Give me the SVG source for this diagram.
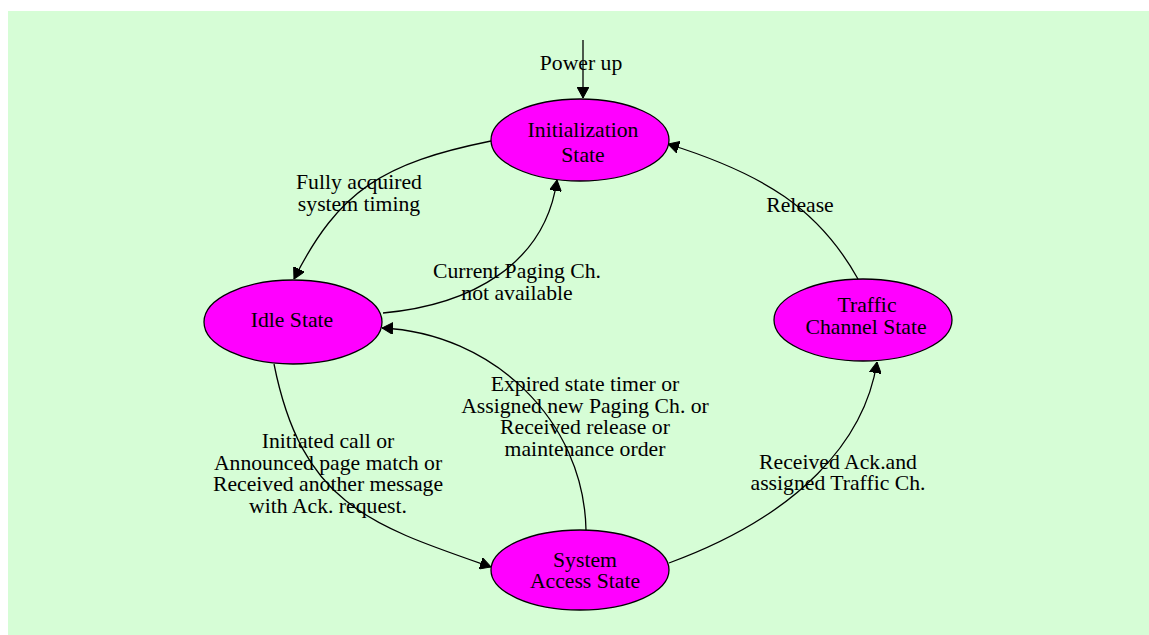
<svg xmlns="http://www.w3.org/2000/svg" width="1149" height="635" viewBox="0 0 1149 635">
  <style>
    .node ellipse { fill: #ff00ff; stroke: #000; stroke-width: 1.3; }
    text { font-family: "Liberation Serif", "Times New Roman", serif; font-size: 21.7px; fill: #000; text-anchor: middle; }
    .edge { fill: none; stroke: #000; stroke-width: 1.3; marker-end: url(#arrow); }
  </style>
  <defs>
    <marker id="arrow" viewBox="0 0 11 12" refX="11" refY="6" markerWidth="11" markerHeight="12" markerUnits="userSpaceOnUse" orient="auto">
      <path d="M0,0 L11,6 L0,12 Z" fill="#000" stroke="#000" stroke-width="1"/>
    </marker>
  </defs>

  <!-- canvas -->
  <rect x="8" y="11" width="1141" height="624" fill="#d6fdd6"/>

  <!-- transitions -->
  <g id="connectors">
    <path class="edge" d="M583,40 L583,98"/>
    <path class="edge" d="M491,141 C383,163 339,190 294,279"/>
    <path class="edge" d="M383,313 C470,305 545,265 557,180"/>
    <path class="edge" d="M274,364 C302,504 370,525 491,567"/>
    <path class="edge" d="M586,530 C584,420 492,333 382,328"/>
    <path class="edge" d="M669,563 C800,515 865,440 877,362"/>
    <path class="edge" d="M858,279 C819,209 764,174 668,144"/>
  </g>

  <g id="labels">
    <text x="581" y="70">Power up</text>
    <text x="359" y="189">Fully acquired</text>
    <text x="359" y="211">system timing</text>
    <text x="517" y="278">Current Paging Ch.</text>
    <text x="517" y="300">not available</text>
    <text x="800" y="212">Release</text>
    <text x="585" y="391">Expired state timer or</text>
    <text x="585" y="413">Assigned new Paging Ch. or</text>
    <text x="585" y="434">Received release or</text>
    <text x="585" y="456">maintenance order</text>
    <text x="328" y="448">Initiated call or</text>
    <text x="328" y="470">Announced page match or</text>
    <text x="328" y="491">Received another message</text>
    <text x="328" y="513">with Ack. request.</text>
    <text x="838" y="469">Received Ack.and</text>
    <text x="838" y="490">assigned Traffic Ch.</text>
  </g>

  <g id="init" class="node">
    <ellipse cx="580" cy="140" rx="89" ry="41"/>
    <text x="583" y="137">Initialization</text>
    <text x="583" y="162">State</text>
  </g>
  <g id="idle" class="node">
    <ellipse cx="293" cy="322" rx="89" ry="42"/>
    <text x="292" y="327">Idle State</text>
  </g>
  <g id="traffic" class="node">
    <ellipse cx="863" cy="320" rx="89" ry="41"/>
    <text x="867" y="312">Traffic</text>
    <text x="866" y="334">Channel State</text>
  </g>
  <g id="access" class="node">
    <ellipse cx="580" cy="570" rx="89" ry="40"/>
    <text x="585" y="567">System</text>
    <text x="585" y="588">Access State</text>
  </g>
</svg>
